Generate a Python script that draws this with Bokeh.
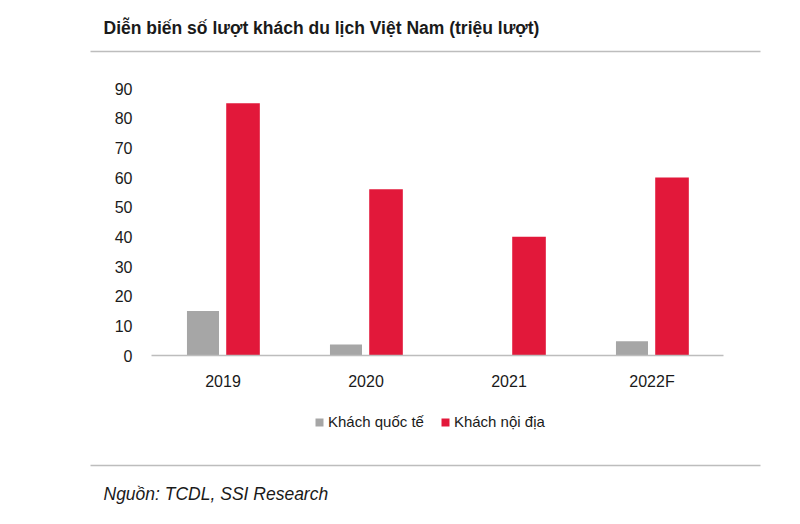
from bokeh.plotting import figure
from bokeh.models import (Range1d, Legend, LegendItem, ColumnDataSource, Label,
                          LinearAxis, FixedTicker)
from bokeh.transform import dodge
from bokeh.embed import file_html
from bokeh.resources import INLINE

# ---- data ----
years = ["2019", "2020", "2021", "2022F"]
khach_quoc_te = [15, 3.7, 0.16, 4.8]
khach_noi_dia = [85, 56, 40, 60]
y_ticks = [0, 10, 20, 30, 40, 50, 60, 70, 80, 90]
series_names = ["Khách quốc tế", "Khách nội địa"]
title_text = "Diễn biến số lượt khách du lịch Việt Nam (triệu lượt)"
source_text = "Nguồn: TCDL, SSI Research"

FONT = "Liberation Sans"
GRAY = "#a6a6a6"
RED = "#e2183a"
LINE = "#bdbdbd"
TXT = "#1a1a1a"

W, H = 800, 524
# plot area (in page pixels): x 151..723, y 88 (value 90) .. 355 (value 0)
PX_L, PX_R, PX_T, PX_B = 151, 723, 88, 355
YMAX = 90
n = len(years)
ux = (PX_R - PX_L) / n          # pixels per category
uy = (PX_B - PX_T) / YMAX       # pixels per unit of value

def cx(px):  # page x pixel -> data x
    return (px - PX_L) / ux

def cy(py):  # page y pixel -> data y
    return (PX_B - py) / uy

centers = [i + 0.5 for i in range(n)]
src = ColumnDataSource(dict(xc=centers, year=years, intl=khach_quoc_te, dom=khach_noi_dia))

p = figure(width=W, height=H, x_range=Range1d(cx(0), cx(W)), y_range=Range1d(cy(H), cy(0)),
           toolbar_location=None, output_backend="svg", min_border=0,
           x_axis_type=None, y_axis_type=None, outline_line_color=None)
p.grid.visible = False

r1 = p.vbar(x=dodge("xc", -0.14), top="intl", width=0.224, source=src,
            fill_color=GRAY, line_color=None)
r2 = p.vbar(x=dodge("xc", 0.14), top="dom", width=0.235, source=src,
            fill_color=RED, line_color=None)

# axes drawn at fixed locations inside the canvas
xaxis = LinearAxis(fixed_location=0, bounds=(0, n),
                   ticker=FixedTicker(ticks=centers),
                   major_label_overrides={c: y for c, y in zip(centers, years)},
                   axis_line_color=LINE, axis_line_width=1.5,
                   major_tick_line_color=None, minor_tick_line_color=None,
                   major_label_standoff=11, major_label_text_font=FONT,
                   major_label_text_font_size="16px", major_label_text_color=TXT)
yaxis = LinearAxis(fixed_location=0, bounds=(0, YMAX),
                   ticker=FixedTicker(ticks=y_ticks),
                   axis_line_color=None, major_tick_line_color=None,
                   minor_tick_line_color=None, major_label_standoff=13,
                   major_label_text_font=FONT, major_label_text_font_size="16px",
                   major_label_text_color=TXT)
p.add_layout(xaxis, "below")
p.add_layout(yaxis, "left")

legend = Legend(items=[LegendItem(label=series_names[0], renderers=[r1]),
                       LegendItem(label=series_names[1], renderers=[r2])],
                orientation="horizontal", location=(314, 94),
                border_line_color=None, background_fill_alpha=0,
                glyph_width=10, glyph_height=10, spacing=16,
                label_text_font=FONT, label_text_font_size="15px",
                label_text_color=TXT, label_standoff=4, margin=0, padding=6)
p.add_layout(legend)

# ---- title, rules, source ----
p.add_layout(Label(x=cx(103), y=cy(27), text=title_text,
                   text_font=FONT, text_font_size="17.5px", text_font_style="bold",
                   text_color=TXT, text_baseline="middle", text_align="left"))
p.segment(x0=[cx(90), cx(90)], y0=[cy(51), cy(465)], x1=[cx(760), cx(760)],
          y1=[cy(51), cy(465)], line_color=LINE, line_width=1.5)
p.add_layout(Label(x=cx(103), y=cy(493), text=source_text,
                   text_font=FONT, text_font_size="17.5px", text_font_style="italic",
                   text_color=TXT, text_baseline="middle", text_align="left"))

open("out.html", "w").write(file_html(p, INLINE))
